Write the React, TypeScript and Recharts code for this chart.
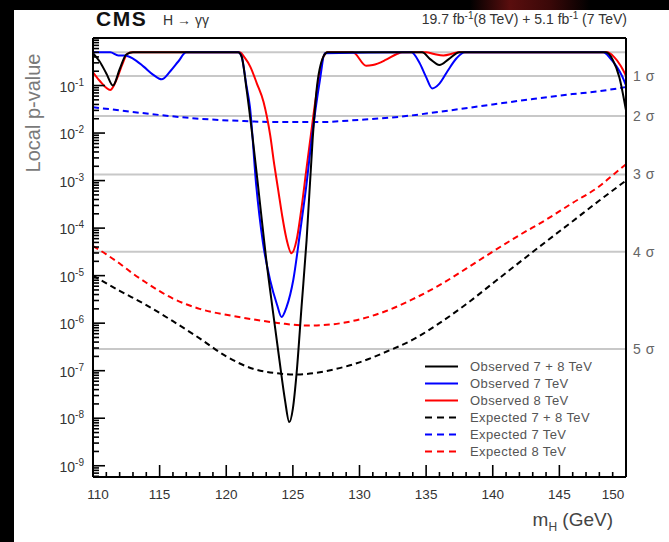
import React from "react";
import { LineChart, Line, XAxis, YAxis, ReferenceLine, Legend } from "recharts";

// observed, 7 + 8 TeV
const obsCombMass = [110, 110.5, 111, 111.5, 112, 112.5, 113, 120.9, 121.15, 121.53, 122.0, 122.5, 123.0, 123.5, 124.0, 124.4, 124.73, 125.0, 125.28, 125.65, 126.03, 126.48, 126.78, 127.3, 127.6, 134.7, 135.3, 136.0, 136.7, 137.5, 148.5, 149.0, 149.5, 150];
const obsCombP = [0.48, 0.32, 0.18, 0.1, 0.22, 0.45, 0.5, 0.5, 0.41, 0.081, 7.1e-3, 4.0e-4, 2.2e-5, 1.8e-6, 1.6e-7, 2.5e-8, 8.3e-9, 1.6e-8, 8.9e-8, 2.2e-6, 5.6e-5, 7.1e-3, 0.081, 0.41, 0.5, 0.5, 0.36, 0.27, 0.36, 0.5, 0.5, 0.35, 0.15, 0.03];

// observed, 7 TeV
const obs7Mass = [110, 111.3, 111.9, 112.4, 113.0, 113.8, 114.5, 115.15, 115.8, 116.4, 117.0, 120.9, 121.15, 121.5, 121.78, 122.25, 122.75, 123.3, 123.8, 124.15, 124.53, 125.03, 125.53, 126.03, 126.4, 127.03, 127.4, 133.9, 134.5, 135.0, 135.45, 136.0, 136.6, 137.3, 137.9, 148.3, 148.8, 149.3, 149.7, 150];
const obs7P = [0.5, 0.5, 0.43, 0.43, 0.37, 0.25, 0.17, 0.135, 0.2, 0.32, 0.5, 0.5, 0.41, 0.105, 0.035, 7.9e-4, 5.0e-5, 7.9e-6, 2.5e-6, 1.35e-6, 2.2e-6, 8.1e-6, 7.8e-5, 8.7e-4, 7.1e-3, 0.13, 0.48, 0.5, 0.3, 0.15, 0.087, 0.11, 0.2, 0.38, 0.5, 0.5, 0.38, 0.25, 0.16, 0.1];

// observed, 8 TeV
const obs8Mass = [110, 110.5, 111.3, 111.8, 112.2, 112.6, 113, 121.0, 121.4, 121.8, 122.3, 122.8, 123.3, 123.6, 123.9, 124.2, 124.5, 124.9, 125.28, 125.66, 126.0, 126.3, 126.7, 127.0, 127.3, 127.6, 129.5, 130.5, 131.0, 132.0, 132.8, 133.2, 135.0, 135.6, 136.3, 137.0, 137.4, 148.6, 149.1, 149.6, 150];
const obs8P = [0.19, 0.126, 0.081, 0.14, 0.28, 0.47, 0.5, 0.5, 0.38, 0.25, 0.11, 0.045, 8.9e-3, 2.2e-3, 6.3e-4, 1.8e-4, 6.3e-5, 2.95e-5, 5.6e-5, 2.8e-4, 1.6e-3, 7.1e-3, 0.05, 0.17, 0.41, 0.5, 0.5, 0.26, 0.27, 0.35, 0.46, 0.5, 0.5, 0.46, 0.43, 0.47, 0.5, 0.5, 0.4, 0.26, 0.16];

// expected curves
const expCombMass = [110, 112, 114, 116, 118, 120, 122, 124, 125, 126, 128, 130, 132, 134, 136, 138, 140, 142, 144, 146, 148, 150];
const expCombP = [1.0e-5, 4.8e-6, 2.4e-6, 1.1e-6, 4.8e-7, 2.0e-7, 1.1e-7, 8.7e-8, 8.3e-8, 8.5e-8, 1.05e-7, 1.5e-7, 2.5e-7, 4.5e-7, 1.0e-6, 2.5e-6, 6.9e-6, 1.9e-5, 5.2e-5, 1.4e-4, 3.8e-4, 1.0e-3];

const exp7Mass = [110, 112, 115, 118, 121, 124, 127, 130, 133, 136, 140, 143, 146, 148, 150];
const exp7P = [0.035, 0.03, 0.024, 0.02, 0.018, 0.017, 0.017, 0.019, 0.022, 0.028, 0.04, 0.052, 0.066, 0.076, 0.093];

const exp8Mass = [110, 111, 112, 113, 114, 115, 116, 117, 118, 119, 120, 122, 124, 126, 128, 130, 132, 134, 136, 138, 140, 142, 144, 146, 148, 149, 150];
const exp8P = [4.2e-5, 2.8e-5, 1.8e-5, 1.1e-5, 7.1e-6, 4.7e-6, 3.3e-6, 2.5e-6, 2.0e-6, 1.7e-6, 1.5e-6, 1.2e-6, 1.0e-6, 8.9e-7, 9.5e-7, 1.2e-6, 1.8e-6, 3.2e-6, 6.3e-6, 1.4e-5, 3.2e-5, 7.1e-5, 1.5e-4, 3.4e-4, 7.6e-4, 1.3e-3, 2.2e-3];

// significance lines
const sigmaP = [0.5, 0.1587, 0.02275, 0.00135, 3.167e-5, 2.867e-7];
const sigmaLabels = ["", "1 σ", "2 σ", "3 σ", "4 σ", "5 σ"];

const xMajorTicks = [110, 115, 120, 125, 130, 135, 140, 145, 150];
const yDecades = [-10, -9, -8, -7, -6, -5, -4, -3, -2, -1];

const Y_MIN = 5.8e-10;
const Y_MAX = 1;
const FONT = '"Liberation Sans", Arial, Helvetica, sans-serif';

const toRows = (mass: number[], p: number[]) => mass.map((m, i) => ({ m, p: p[i] }));

const xTicks: number[] = [];
for (let m = 110; m <= 150; m++) xTicks.push(m);

const yTicks: number[] = [];
yDecades.forEach((d) => {
  for (let k = 1; k <= 9; k++) {
    const v = k * Math.pow(10, d);
    if (v >= Y_MIN && v < Y_MAX) yTicks.push(v);
  }
});

const series = [
  { key: "exp8", name: "Expected 8 TeV", color: "#ff0000", dashed: true, rows: toRows(exp8Mass, exp8P) },
  { key: "exp7", name: "Expected 7 TeV", color: "#0000ff", dashed: true, rows: toRows(exp7Mass, exp7P) },
  { key: "expC", name: "Expected 7 + 8 TeV", color: "#000000", dashed: true, rows: toRows(expCombMass, expCombP) },
  { key: "obs8", name: "Observed 8 TeV", color: "#ff0000", dashed: false, rows: toRows(obs8Mass, obs8P) },
  { key: "obs7", name: "Observed 7 TeV", color: "#0000ff", dashed: false, rows: toRows(obs7Mass, obs7P) },
  { key: "obsC", name: "Observed 7 + 8 TeV", color: "#000000", dashed: false, rows: toRows(obsCombMass, obsCombP) },
];
const legendOrder = ["obsC", "obs7", "obs8", "expC", "exp7", "exp8"];

const LeftTick = (props: any) => {
  const { x, y, payload } = props;
  const lg = Math.log10(payload.value);
  const e = Math.round(lg);
  const major = Math.abs(lg - e) < 1e-6;
  return (
    <g>
      <line x1={x} y1={y} x2={x + (major ? 12 : 6)} y2={y} stroke="#000" strokeWidth={1.6} />
      {major && (
        <text x={x - 9} y={y + 6} textAnchor="end" fontSize={14} fill="#333" fontFamily={FONT}>
          10
          <tspan dy={-6} fontSize={10}>{`-${-e}`}</tspan>
        </text>
      )}
    </g>
  );
};

const BottomTick = (props: any) => {
  const { x, y, payload } = props;
  const v = payload.value;
  const major = xMajorTicks.includes(v);
  const shift = v === 110 ? 5 : v === 150 ? -13 : 0;
  return (
    <g>
      <line x1={x} y1={y} x2={x} y2={y - (major ? 12 : 5)} stroke="#000" strokeWidth={1.6} />
      {major && (
        <text x={x + shift} y={y + 22} textAnchor="middle" fontSize={13.5} fill="#333" fontFamily={FONT}>
          {v}
        </text>
      )}
    </g>
  );
};

const RightTick = (props: any) => {
  const { x, y, payload } = props;
  const idx = sigmaP.indexOf(payload.value);
  const label = idx >= 0 ? sigmaLabels[idx] : "";
  if (!label) return <g />;
  return (
    <text x={x + 7} y={y + 5} fontSize={14} fill="#666" fontFamily={FONT} letterSpacing={0.5}>
      {label}
    </text>
  );
};

const LegendBox = () => (
  <div style={{ fontFamily: FONT }}>
    {legendOrder.map((k) => {
      const s = series.find((q) => q.key === k)!;
      return (
        <div key={k} style={{ display: "flex", alignItems: "center", height: 17 }}>
          <svg width={36} height={17}>
            <line x1={3} x2={36} y1={8.5} y2={8.5} stroke={s.color} strokeWidth={2} strokeDasharray={s.dashed ? "7 5" : undefined} />
          </svg>
          <span style={{ marginLeft: 12, fontSize: 13, color: "#555", letterSpacing: 0.4, whiteSpace: "nowrap" }}>{s.name}</span>
        </div>
      );
    })}
  </div>
);

export default function App() {
  return (
    <div style={{ position: "absolute", left: 0, top: 0, width: 669, height: 542, background: "#000", overflow: "hidden", fontFamily: FONT }}>
      <div style={{ position: "absolute", left: 470, top: 0, width: 120, height: 10, background: "linear-gradient(90deg, rgba(0,0,0,0), #5a0e0e, #3a0808, rgba(0,0,0,0))" }} />
      <div style={{ position: "absolute", left: 14, top: 10, right: 0, bottom: 0, background: "#fff" }} />

      <div style={{ position: "absolute", left: 0, top: 0 }}>
        <LineChart width={669} height={542} margin={{ top: 8, right: 0, bottom: 0, left: 13 }}>
          <XAxis
            xAxisId="main"
            dataKey="m"
            type="number"
            domain={[110, 150]}
            ticks={xTicks}
            interval={0}
            allowDataOverflow
            height={65}
            tickSize={0}
            tickMargin={0}
            tickLine={false}
            axisLine={{ stroke: "#000", strokeWidth: 2 }}
            tick={<BottomTick />}
          />
          <XAxis
            xAxisId="top"
            orientation="top"
            type="number"
            domain={[110, 150]}
            allowDataOverflow
            height={30}
            tick={false}
            tickLine={false}
            axisLine={{ stroke: "#000", strokeWidth: 2 }}
          />
          <YAxis
            yAxisId="left"
            type="number"
            scale="log"
            domain={[Y_MIN, Y_MAX]}
            allowDataOverflow
            ticks={yTicks}
            interval={0}
            width={80}
            tickSize={0}
            tickMargin={0}
            tickLine={false}
            axisLine={{ stroke: "#000", strokeWidth: 2 }}
            tick={<LeftTick />}
          />
          <YAxis
            yAxisId="right"
            orientation="right"
            type="number"
            scale="log"
            domain={[Y_MIN, Y_MAX]}
            allowDataOverflow
            ticks={sigmaP}
            interval={0}
            width={43}
            tickSize={0}
            tickMargin={0}
            tickLine={false}
            axisLine={{ stroke: "#000", strokeWidth: 2 }}
            tick={<RightTick />}
          />
          {sigmaP.map((p) => (
            <ReferenceLine key={p} xAxisId="main" yAxisId="left" y={p} stroke="#c8c8c8" strokeWidth={2} />
          ))}
          {series.map((s) => (
            <Line
              key={s.key}
              xAxisId="main"
              yAxisId="left"
              data={s.rows}
              dataKey="p"
              name={s.name}
              type="monotone"
              stroke={s.color}
              strokeWidth={2}
              strokeDasharray={s.dashed ? "6 4" : undefined}
              dot={false}
              activeDot={false}
              isAnimationActive={false}
            />
          ))}
          <Legend
            layout="vertical"
            align="center"
            verticalAlign="middle"
            wrapperStyle={{ left: 422, top: 358, width: 200 }}
            content={() => <LegendBox />}
          />
        </LineChart>
      </div>

      <div style={{ position: "absolute", left: 96, top: 8, fontSize: 21, fontWeight: "bold", letterSpacing: 1.5, lineHeight: 1, color: "#111" }}>CMS</div>
      <div style={{ position: "absolute", left: 163, top: 13, fontSize: 14, lineHeight: 1, color: "#333" }}>H → γγ</div>
      <div style={{ position: "absolute", right: 42, top: 12, fontSize: 14, lineHeight: 1, color: "#333", whiteSpace: "nowrap" }}>
        19.7 fb<span style={{ fontSize: 10, position: "relative", top: -5 }}>-1</span>(8 TeV) + 5.1 fb
        <span style={{ fontSize: 10, position: "relative", top: -5 }}>-1</span> (7 TeV)
      </div>
      <div
        style={{
          position: "absolute",
          left: 33 - 80,
          top: 113 - 12,
          width: 160,
          height: 24,
          lineHeight: "24px",
          textAlign: "center",
          transform: "rotate(-90deg)",
          fontSize: 20,
          color: "#7a7a7a",
          whiteSpace: "nowrap",
        }}
      >
        Local p-value
      </div>
      <div style={{ position: "absolute", right: 56, top: 510, fontSize: 19, lineHeight: 1, color: "#444", whiteSpace: "nowrap" }}>
        m<span style={{ fontSize: 12, position: "relative", top: 5 }}>H</span> (GeV)
      </div>
    </div>
  );
}
